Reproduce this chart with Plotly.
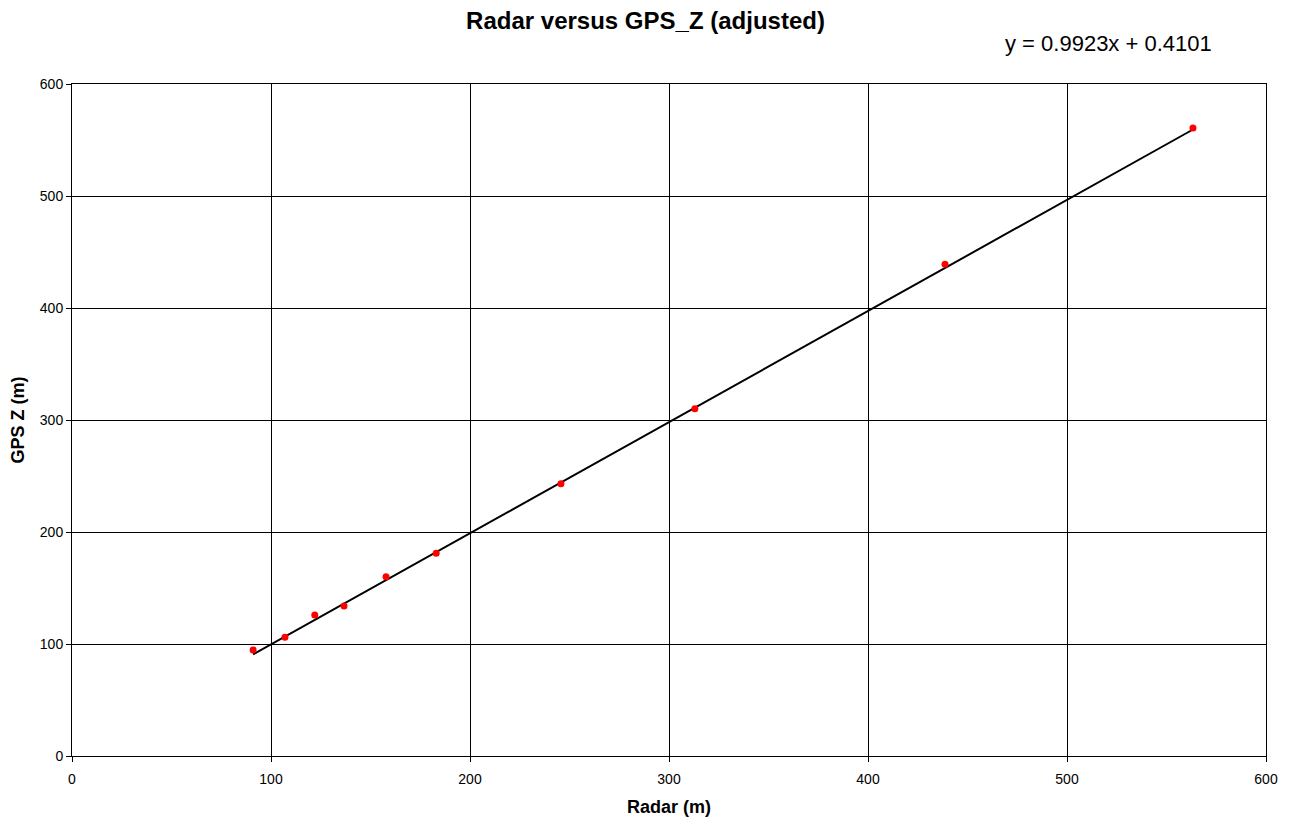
import plotly.graph_objects as go

radar = [91, 107, 122, 136.7, 157.8, 183, 245.7, 313, 438.7, 563.3]
gps_z = [94.6, 106, 126, 134, 160, 181, 243, 310, 439, 560.7]
slope = 0.9923
intercept = 0.4101
x_ticks = [0, 100, 200, 300, 400, 500, 600]
y_ticks = [0, 100, 200, 300, 400, 500, 600]

xmin, xmax = min(radar), max(radar)
fig = go.Figure()
fig.add_trace(go.Scatter(
    x=[xmin, xmax], y=[slope * xmin + intercept, slope * xmax + intercept],
    mode="lines", line=dict(color="black", width=2), showlegend=False, hoverinfo="skip"))
fig.add_trace(go.Scatter(
    x=radar, y=gps_z, mode="markers",
    marker=dict(color="red", size=7, symbol="circle"), showlegend=False))

font = "Liberation Sans, Arial, sans-serif"
W, H, L, R, T, B = 1291, 818, 72, 25, 84, 62
fig.update_layout(
    width=W, height=H,
    margin=dict(l=L, r=R, t=T, b=B),
    paper_bgcolor="white", plot_bgcolor="white",
    font=dict(family=font, color="black", size=14),
    title=dict(text="<b>Radar versus GPS_Z (adjusted)</b>", x=0.5, xanchor="center",
               y=1 - 21 / H, yanchor="middle", font=dict(size=24, family=font)),
    xaxis=dict(range=[0, 600], tickvals=x_ticks, showgrid=True, gridcolor="black", gridwidth=1,
               showline=True, linecolor="black", linewidth=1, mirror=True,
               ticks="outside", ticklen=5, tickcolor="black", zeroline=False,
               ticklabelstandoff=5, automargin=False,
               title=dict(text="<b>Radar (m)</b>", font=dict(size=18), standoff=14)),
    yaxis=dict(range=[0, 600], tickvals=y_ticks, showgrid=True, gridcolor="black", gridwidth=1,
               showline=True, linecolor="black", linewidth=1, mirror=True,
               ticks="outside", ticklen=5, tickcolor="black", zeroline=False,
               automargin=False,
               title=dict(text="<b>GPS Z (m)</b>", font=dict(size=18), standoff=10)),
    annotations=[dict(text="y = 0.9923x + 0.4101",
                      x=(1108 - L) / (W - L - R), y=1 + (T - 44) / (H - T - B),
                      xref="paper", yref="paper", xanchor="center", yanchor="middle",
                      showarrow=False, font=dict(size=22, family=font))],
)
fig.write_html("out.html")
